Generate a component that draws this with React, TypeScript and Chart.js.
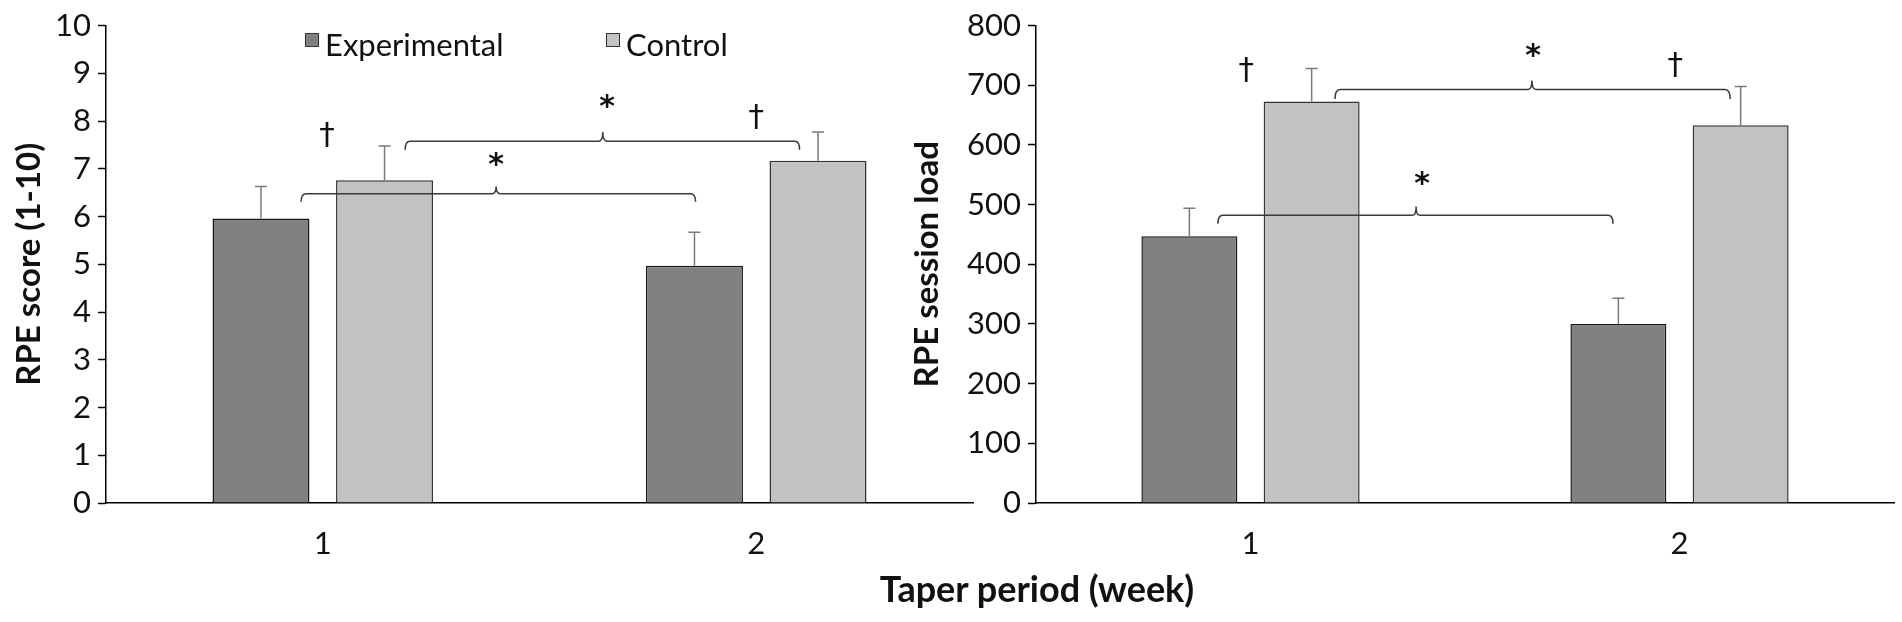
import React, { useEffect, useRef } from 'react';
import { Chart, registerables } from 'chart.js';
import type { Plugin } from 'chart.js';

Chart.register(...registerables);

// categories (taper week) and series
const weeks = ['1', '2'];
const seriesNames = ['Experimental', 'Control'];
const seriesColors = ['#818181', '#c2c2c2'];

// RPE score (1-10), mean and SD
const rpeExperimental = [5.96, 4.97];
const rpeExperimentalSd = [0.67, 0.7];
const rpeControl = [6.76, 7.17];
const rpeControlSd = [0.72, 0.6];

// RPE session load, mean and SD
const loadExperimental = [447, 300];
const loadExperimentalSd = [47, 43];
const loadControl = [673, 633];
const loadControlSd = [55, 65];

// significance brackets (x in category units, y in data units)
interface Bracket { from: number; to: number; mid: number; y: number; drop: number; notch: number; }
interface Mark { x: number; y: number; text: string; }

const rpeBrackets: Bracket[] = [
    { from: -0.05, to: 0.86, mid: 0.4, y: 6.48, drop: 6.31, notch: 6.63 },
    { from: 0.19, to: 1.1, mid: 0.646, y: 7.58, drop: 7.4, notch: 7.77 }
];
const rpeMarks: Mark[] = [
    { x: 0.4, y: 7.19, text: '*' },
    { x: 0.656, y: 8.4, text: '*' },
    { x: 0.01, y: 7.71, text: '†' },
    { x: 1.0, y: 8.1, text: '†' }
];

const loadBrackets: Bracket[] = [
    { from: -0.076, to: 0.845, mid: 0.386, y: 482, drop: 468, notch: 497 },
    { from: 0.197, to: 1.118, mid: 0.656, y: 693, drop: 677, notch: 708 }
];
const loadMarks: Mark[] = [
    { x: 0.4, y: 543, text: '*' },
    { x: 0.659, y: 758, text: '*' },
    { x: -0.01, y: 727, text: '†' },
    { x: 0.99, y: 735, text: '†' }
];

Chart.defaults.font.family = 'Lato, sans-serif';
Chart.defaults.color = '#111';

interface PanelProps {
    left: number;
    width: number;
    axisWidth: number;
    padRight: number;
    titlePad: number;
    yTitle: string;
    yMax: number;
    yStep: number;
    exp: number[];
    expSd: number[];
    ctrl: number[];
    ctrlSd: number[];
    brackets: Bracket[];
    marks: Mark[];
}

const BarPanel: React.FC<PanelProps> = (p) => {
    const canvasRef = useRef<HTMLCanvasElement | null>(null);

    useEffect(() => {
        const ctx = canvasRef.current?.getContext('2d');
        if (!ctx) return;
        const sds = [p.expSd, p.ctrlSd];

        // error bars, brackets and significance marks
        const annotations: Plugin<'bar'> = {
            id: 'annotations',
            afterDatasetsDraw(chart: any) {
                const c = chart.ctx;
                const xs = chart.scales.x;
                const ys = chart.scales.y;
                c.save();
                c.lineWidth = 1.5;
                c.strokeStyle = '#7a7a7a';
                chart.data.datasets.forEach((ds: any, i: number) => {
                    chart.getDatasetMeta(i).data.forEach((bar: any, j: number) => {
                        const top = ys.getPixelForValue(ds.data[j] + sds[i][j]);
                        c.beginPath();
                        c.moveTo(bar.x, bar.y);
                        c.lineTo(bar.x, top);
                        c.moveTo(bar.x - 6, top);
                        c.lineTo(bar.x + 6, top);
                        c.stroke();
                    });
                });

                c.strokeStyle = '#3a3a3a';
                p.brackets.forEach(b => {
                    const x1 = xs.getPixelForValue(b.from);
                    const x2 = xs.getPixelForValue(b.to);
                    const xm = xs.getPixelForValue(b.mid);
                    const y = ys.getPixelForValue(b.y);
                    const yd = ys.getPixelForValue(b.drop);
                    const yn = ys.getPixelForValue(b.notch);
                    c.beginPath();
                    c.moveTo(x1, yd);
                    c.quadraticCurveTo(x1, y, x1 + 5, y);
                    c.lineTo(xm - 4, y);
                    c.quadraticCurveTo(xm, y, xm, yn);
                    c.quadraticCurveTo(xm, y, xm + 4, y);
                    c.lineTo(x2 - 5, y);
                    c.quadraticCurveTo(x2, y, x2, yd);
                    c.stroke();
                });

                // marks are centred on their glyph box
                c.fillStyle = '#111';
                c.textAlign = 'center';
                c.textBaseline = 'alphabetic';
                p.marks.forEach(m => {
                    c.font = m.text === '*' ? 'bold 30px "DejaVu Sans"' : '31px "DejaVu Sans"';
                    const tm = c.measureText(m.text);
                    const off = (tm.actualBoundingBoxAscent - tm.actualBoundingBoxDescent) / 2;
                    c.fillText(m.text, xs.getPixelForValue(m.x), ys.getPixelForValue(m.y) + off);
                });
                c.restore();
            }
        };

        const chart = new Chart(ctx, {
            type: 'bar',
            data: {
                labels: weeks,
                datasets: [
                    { label: seriesNames[0], data: p.exp, backgroundColor: seriesColors[0], borderColor: '#1a1a1a', borderWidth: 1.5 },
                    { label: seriesNames[1], data: p.ctrl, backgroundColor: seriesColors[1], borderColor: '#333', borderWidth: 1.5 }
                ]
            },
            options: {
                animation: false,
                responsive: false,
                devicePixelRatio: 1,
                categoryPercentage: 0.57,
                barPercentage: 0.785,
                layout: { padding: { left: 0, top: 23, right: p.padRight, bottom: 0 } },
                plugins: { legend: { display: false }, tooltip: { enabled: false } },
                scales: {
                    x: {
                        grid: { display: false, drawTicks: false },
                        border: { display: true, color: '#000', width: 1.5 },
                        ticks: { font: { size: 31 }, padding: 22, color: '#111' },
                        afterFit: (s: any) => { s.height = 119; }
                    },
                    y: {
                        min: 0,
                        max: p.yMax,
                        ticks: { stepSize: p.yStep, font: { size: 31 }, padding: 7, color: '#111' },
                        grid: { drawOnChartArea: false, drawTicks: true, tickLength: 8, tickColor: '#000', tickWidth: 1.5 },
                        border: { display: true, color: '#000', width: 1.5 },
                        title: {
                            display: true,
                            text: p.yTitle,
                            font: { size: 33, weight: 'bold' },
                            color: '#111',
                            padding: { top: p.titlePad, bottom: 0 }
                        },
                        afterFit: (s: any) => { s.width = p.axisWidth; }
                    }
                }
            },
            plugins: [annotations]
        });

        return () => chart.destroy();
    }, []);

    return (
        <canvas
            ref={canvasRef}
            width={p.width}
            height={622}
            style={{ position: 'absolute', left: p.left, top: 0, width: p.width, height: 622 }}
        />
    );
};

const legendLeft = [305, 606];

const App: React.FC = () => {
    return (
        <div style={{ position: 'absolute', left: 0, top: 0, width: 1902, height: 622, background: '#fff', overflow: 'hidden', fontFamily: 'Lato, sans-serif' }}>
            <BarPanel
                left={0} width={980} axisWidth={106} padRight={7} titlePad={10}
                yTitle="RPE score (1-10)" yMax={10} yStep={1}
                exp={rpeExperimental} expSd={rpeExperimentalSd}
                ctrl={rpeControl} ctrlSd={rpeControlSd}
                brackets={rpeBrackets} marks={rpeMarks}
            />
            <BarPanel
                left={890} width={1012} axisWidth={146} padRight={8} titlePad={18}
                yTitle="RPE session load" yMax={800} yStep={100}
                exp={loadExperimental} expSd={loadExperimentalSd}
                ctrl={loadControl} ctrlSd={loadControlSd}
                brackets={loadBrackets} marks={loadMarks}
            />

            {/* legend inside the left plot */}
            {seriesNames.map((name, i) => (
                <React.Fragment key={name}>
                    <div style={{
                        position: 'absolute', left: legendLeft[i], top: 33, width: 12, height: 12,
                        background: seriesColors[i], border: '1px solid #333'
                    }} />
                    <div style={{
                        position: 'absolute', left: legendLeft[i] + 20, top: 29, fontSize: 31,
                        lineHeight: '31px', color: '#111', whiteSpace: 'nowrap'
                    }}>{name}</div>
                </React.Fragment>
            ))}

            <div style={{
                position: 'absolute', left: 1037, top: 570, transform: 'translateX(-50%)',
                fontSize: 36, lineHeight: '36px', fontWeight: 'bold', color: '#111', whiteSpace: 'nowrap'
            }}>
                Taper period (week)
            </div>
        </div>
    );
};

export default App;
